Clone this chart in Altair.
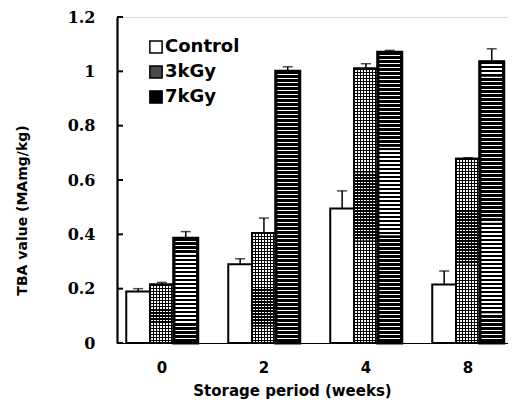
import altair as alt
import pandas as pd

weeks = ["0", "2", "4", "8"]
groups = ["Control", "3kGy", "7kGy"]
control = [0.19, 0.29, 0.495, 0.215]
gy3 = [0.215, 0.405, 1.01, 0.678]
gy7 = [0.385, 1.0, 1.07, 1.035]
err_control = [0.01, 0.02, 0.065, 0.05]
err_3 = [0.008, 0.055, 0.018, 0.004]
err_7 = [0.025, 0.017, 0.007, 0.048]
y_ticks = [0, 0.2, 0.4, 0.6, 0.8, 1, 1.2]

rows = []
for g, vals, errs in [("Control", control, err_control), ("3kGy", gy3, err_3), ("7kGy", gy7, err_7)]:
    for w, v, e in zip(weeks, vals, errs):
        rows.append({"week": w, "group": g, "value": v, "upper": v + e})
df = pd.DataFrame(rows)

W, H = 391, 326
PX_PER_UNIT = H / 1.2

X = alt.X("week:N", sort=weeks,
          scale=alt.Scale(domain=weeks, paddingInner=0.3, paddingOuter=0.0667, align=0.68),
          axis=alt.Axis(title="Storage period (weeks)", labelAngle=0, ticks=False,
                        domainColor="black", domainWidth=1.2, labelPadding=17,
                        labelFont="DejaVu Sans", labelFontWeight="bold", labelFontSize=15,
                        labelColor="black",
                        titleFont="DejaVu Sans", titleFontWeight="bold", titleFontSize=15,
                        titleColor="black", titleX=175, titleY=47, titleBaseline="middle",
                        titleAlign="center"))
XO = alt.XOffset("group:N", sort=groups, scale=alt.Scale(domain=groups, paddingInner=0, paddingOuter=0))
Y = alt.Y("value:Q", scale=alt.Scale(domain=[0, 1.2], nice=False),
          axis=alt.Axis(values=y_ticks, format="~g", ticks=False, grid=False,
                        domainColor="black", domainWidth=2.2, labelPadding=22,
                        labelFont="DejaVu Serif", labelFontWeight="bold", labelFontSize=16,
                        labelColor="black",
                        title="TBA value (MAmg/kg)", titleFont="DejaVu Sans",
                        titleFontWeight="bold", titleFontSize=14, titleColor="black",
                        titleX=-95, titleY=193, titleAngle=270, titleBaseline="middle",
                        titleAlign="center"))

EPS = 1e-4


def stripes(n, on, off, frac, vertical=True):
    stops = []
    for i in range(n):
        a = i / n
        b = (i + frac) / n
        c = (i + 1) / n
        stops += [{"offset": round(a + (EPS if i else 0), 6), "color": on},
                  {"offset": round(b, 6), "color": on},
                  {"offset": round(b + EPS, 6), "color": off},
                  {"offset": round(c, 6), "color": off}]
    g = {"gradient": "linear", "stops": stops}
    if vertical:
        g.update({"x1": 0, "x2": 0, "y1": 0, "y2": 1})
    else:
        g.update({"x1": 0, "x2": 1, "y1": 0, "y2": 0})
    return g


CLEAR = "rgba(0,0,0,0)"
base = alt.Chart(df)

bars = base.mark_bar(stroke="black", strokeWidth=2).encode(
    x=X, xOffset=XO, y=Y,
    fill=alt.Fill("group:N", sort=groups,
                  scale=alt.Scale(domain=groups, range=["white", "#4a4a4a", "black"]),
                  legend=alt.Legend(title=None, orient="none", legendX=30, legendY=21,
                                    symbolType="square", symbolSize=150,
                                    symbolStrokeColor="black", symbolStrokeWidth=1.5,
                                    labelFont="DejaVu Sans", labelFontWeight="bold",
                                    labelFontSize=18, labelColor="black", labelOffset=0,
                                    rowPadding=5, padding=0))
)

layers = [bars]

# 3kGy: white base then a black grid (vertical + horizontal stripes) -> checker look
layers.append(
    base.transform_filter(alt.datum.group == "3kGy").mark_bar(fill="white", strokeWidth=0
    ).encode(x=X, xOffset=XO, y=Y)
)
layers.append(
    base.transform_filter(alt.datum.group == "3kGy").mark_bar(
        fill=stripes(8, "black", CLEAR, 0.45, vertical=False), strokeWidth=0
    ).encode(x=X, xOffset=XO, y=Y)
)
for w, v in zip(weeks, gy3):
    n = max(1, round(v * PX_PER_UNIT / 3))
    layers.append(
        base.transform_filter((alt.datum.group == "3kGy") & (alt.datum.week == w)).mark_bar(
            fill=stripes(n, "black", CLEAR, 0.45), stroke="black", strokeWidth=2
        ).encode(x=X, xOffset=XO, y=Y)
    )
# 7kGy: black bar with thin white horizontal lines
for w, v in zip(weeks, gy7):
    n = max(1, round(v * PX_PER_UNIT / 4))
    layers.append(
        base.transform_filter((alt.datum.group == "7kGy") & (alt.datum.week == w)).mark_bar(
            fill=stripes(n, CLEAR, "white", 0.65), stroke="black", strokeWidth=3.2
        ).encode(x=X, xOffset=XO, y=Y)
    )

err_line = base.mark_rule(color="black", strokeWidth=1.5).encode(
    x=X, xOffset=XO, y=Y, y2="upper:Q")
err_cap = base.mark_tick(color="black", thickness=1.5, size=10).encode(
    x=X, xOffset=XO, y=alt.Y("upper:Q", scale=alt.Scale(domain=[0, 1.2], nice=False)))
layers += [err_line, err_cap]

tick_df = pd.DataFrame({"value": y_ticks})
ytick_marks = alt.Chart(tick_df).mark_rule(color="black", strokeWidth=2).encode(
    y=Y, x=alt.value(0), x2=alt.value(6))
layers.append(ytick_marks)

chart = alt.layer(*layers).properties(
    width=W, height=H, autosize="none",
    padding={"left": 109, "top": 9, "right": 0, "bottom": 58},
).configure_view(stroke=None).configure(background="white")

chart.save("out.html", embed_options={"renderer": "svg", "actions": False})
